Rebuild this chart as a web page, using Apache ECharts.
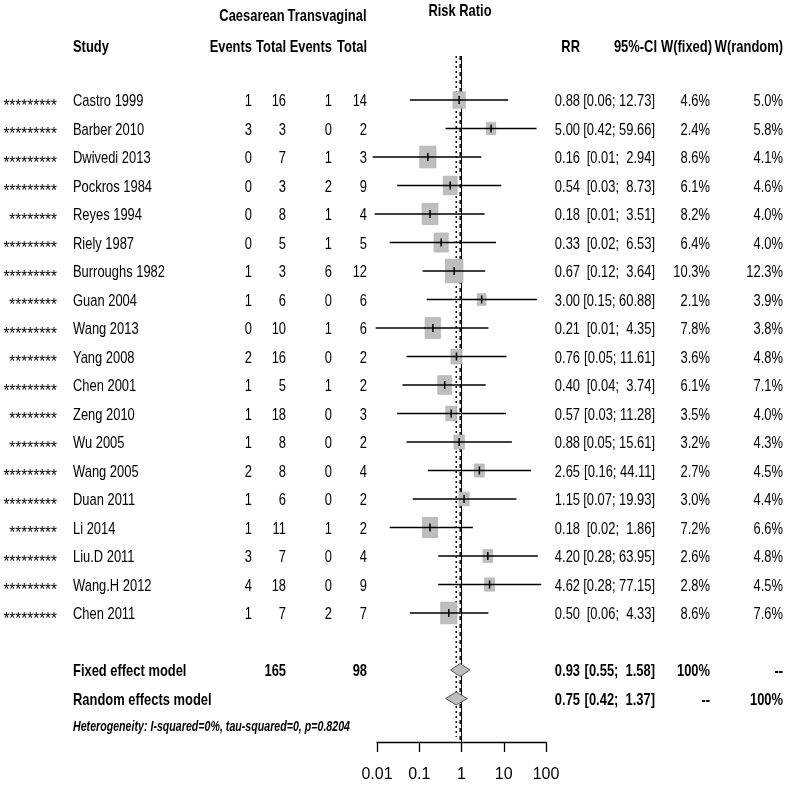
<!DOCTYPE html>
<html><head><meta charset="utf-8">
<script src="https://cdn.jsdelivr.net/npm/echarts@6/dist/echarts.min.js"></script>
<style>html,body{margin:0;padding:0;background:#fff}#c{width:787px;height:785px}</style>
</head><body><div id="c"></div>
<script>
// ---------------- data ----------------
const studies = ["Castro 1999","Barber 2010","Dwivedi 2013","Pockros 1984","Reyes 1994","Riely 1987","Burroughs 1982","Guan 2004","Wang 2013","Yang 2008","Chen 2001","Zeng 2010","Wu 2005","Wang 2005","Duan 2011","Li 2014","Liu.D 2011","Wang.H 2012","Chen 2011"];
const starCounts = [9,9,9,9,8,9,9,8,9,8,9,8,8,9,9,8,9,9,9];
const eventsC = [1,3,0,0,0,0,1,1,0,2,1,1,1,2,1,1,3,4,1];
const totalC  = [16,3,7,3,8,5,3,6,10,16,5,18,8,8,6,11,7,18,7];
const eventsT = [1,0,1,2,1,1,6,0,1,0,1,0,0,0,0,1,0,0,2];
const totalT  = [14,2,3,9,4,5,12,6,6,2,2,3,2,4,2,2,4,9,7];
const rr   = [0.88,5.00,0.16,0.54,0.18,0.33,0.67,3.00,0.21,0.76,0.40,0.57,0.88,2.65,1.15,0.18,4.20,4.62,0.50];
const ciLo = [0.06,0.42,0.0079,0.03,0.0088,0.02,0.12,0.15,0.0093,0.05,0.04,0.03,0.05,0.16,0.07,0.02,0.28,0.28,0.06];
const ciHi = [12.73,59.66,2.94,8.73,3.51,6.53,3.64,60.88,4.35,11.61,3.74,11.28,15.61,44.11,19.93,1.86,63.95,77.15,4.33];
const wFixed  = [4.6,2.4,8.6,6.1,8.2,6.4,10.3,2.1,7.8,3.6,6.1,3.5,3.2,2.7,3.0,7.2,2.6,2.8,8.6];
const wRandom = [5.0,5.8,4.1,4.6,4.0,4.0,12.3,3.9,3.8,4.8,7.1,4.0,4.3,4.5,4.4,6.6,4.8,4.5,7.6];

const modelNames = ["Fixed effect model","Random effects model"];
const modelTotalC = ["165",""];
const modelTotalT = ["98",""];
const modelRR = [0.93,0.75];
const modelLo = [0.55,0.42];
const modelHi = [1.58,1.37];
const modelWFixed = ["100%","--"];
const modelWRandom = ["--","100%"];
const heterogeneity = "Heterogeneity: I-squared=0%, tau-squared=0, p=0.8204";

const refValues = [1, 0.93, 0.75];   // null line, fixed, random
const tickValues = [0.01,0.1,1,10,100];
const tickLabels = ["0.01","0.1","1","10","100"];

// ---------------- layout ----------------
const FONT = "'Liberation Sans', Arial, sans-serif";
const FS = 17, SX = 0.76;
const TXT_DY = 1.5;
const nStudies = studies.length;
const modelRow0 = nStudies + 1;          // fixed row index
const hetRow = modelRow0 + 2;

const fmt2 = v => v.toFixed(2);
const ciText = (l,h) => "[" + fmt2(l) + "; " + fmt2(h).padStart(5," ") + "]";
const pct = v => v.toFixed(1) + "%";

function txt(x, y, text, align, o) {
  o = o || {};
  return {
    type: 'text', x: x, y: y, scaleX: o.sx || SX, z2: 10,
    style: {
      text: text, x: 0, y: 0, align: align, verticalAlign: 'middle',
      font: (o.style || '') + ' ' + (o.bold ? 'bold ' : '') + (o.fs || FS) + 'px ' + FONT,
      fill: '#000'
    }
  };
}

const colX = { star: 57, study: 73, evC: 252, nC: 286, evT: 332, nT: 367, rr: 580, ci: 655, wf: 710, wr: 783 };

const chart = echarts.init(document.getElementById('c'), null, { renderer: 'canvas' });

const option = {
  animation: false,
  backgroundColor: '#fff',
  grid: { left: 377, right: 241, top: 56, bottom: 43 },
  xAxis: {
    type: 'log', logBase: 10, min: 0.01, max: 100,
    axisLine: { show: true, onZero: false, lineStyle: { color: '#000', width: 1.3 } },
    axisTick: { show: true, length: 10, lineStyle: { color: '#000', width: 1.3 } },
    splitLine: { show: false },
    axisLabel: {
      margin: 25, color: '#000', fontSize: 16,
      fontFamily: "'Liberation Sans Narrow', 'Liberation Sans', sans-serif",
      formatter: v => tickLabels[Math.round(Math.log10(v)) + 2]
    }
  },
  yAxis: { type: 'value', inverse: true, min: -1.544, max: 22.526, show: false },
  graphic: [
    txt(252, 16, "Caesarean", 'center', { bold: true }),
    txt(327, 16, "Transvaginal", 'center', { bold: true }),
    txt(460, 11, "Risk Ratio", 'center', { bold: true }),
    txt(73, 47, "Study", 'left', { bold: true }),
    txt(252, 47, "Events", 'right', { bold: true }),
    txt(286, 47, "Total", 'right', { bold: true }),
    txt(332, 47, "Events", 'right', { bold: true }),
    txt(367, 47, "Total", 'right', { bold: true }),
    txt(580, 47, "RR", 'right', { bold: true }),
    txt(657, 47, "95%-CI", 'right', { bold: true }),
    txt(712, 47, "W(fixed)", 'right', { bold: true }),
    txt(783, 47, "W(random)", 'right', { bold: true })
  ],
  series: [
    { // reference lines
      type: 'custom', z: 1, silent: true,
      data: refValues.map((v, i) => [v, i]),
      renderItem: (params, api) => {
        const v = api.value(0);
        const i = params.dataIndex;
        const p0 = api.coord([v, -1.544]);
        const p1 = api.coord([v, 22.526]);
        const dash = i === 0 ? null : (i === 1 ? [4, 4] : [2, 3]);
        return {
          type: 'line',
          shape: { x1: p0[0], y1: p0[1], x2: p1[0], y2: p1[1] - (i === 2 ? 5 : 0) },
          style: { stroke: '#000', lineWidth: i === 0 ? 1 : 1.4, lineDash: dash }
        };
      }
    },
    { // study boxes + CI lines
      type: 'custom', z: 3, silent: true,
      data: rr.map((v, i) => [v, i, ciLo[i], ciHi[i], wFixed[i]]),
      renderItem: (params, api) => {
        const row = api.value(1);
        const c = api.coord([api.value(0), row]);
        const a = api.coord([api.value(2), row]);
        const b = api.coord([api.value(3), row]);
        const w = 5 * Math.sqrt(api.value(4)) + 1.5;
        const h = w * 1.34;
        return {
          type: 'group', children: [
            { type: 'rect', shape: { x: c[0] - w / 2, y: c[1] - h / 2, width: w, height: h },
              style: { fill: '#bebebe', stroke: '#b4b4b4', lineWidth: 0.8 } },
            { type: 'line', shape: { x1: a[0], y1: a[1], x2: b[0], y2: b[1] },
              style: { stroke: '#000', lineWidth: 1.5 } },
            { type: 'line', shape: { x1: c[0], y1: c[1] - 4, x2: c[0], y2: c[1] + 4 },
              style: { stroke: '#000', lineWidth: 1.5 } }
          ]
        };
      }
    },
    { // model diamonds
      type: 'custom', z: 3, silent: true,
      data: modelRR.map((v, i) => [v, modelRow0 + i, modelLo[i], modelHi[i]]),
      renderItem: (params, api) => {
        const row = api.value(1);
        const c = api.coord([api.value(0), row]);
        const a = api.coord([api.value(2), row]);
        const b = api.coord([api.value(3), row]);
        const hh = 6.5;
        return {
          type: 'polygon',
          shape: { points: [[a[0], a[1]], [c[0], c[1] - hh], [b[0], b[1]], [c[0], c[1] + hh]] },
          style: { fill: '#bebebe', stroke: '#555', lineWidth: 1 }
        };
      }
    },
    { // study table text
      type: 'custom', z: 4, silent: true,
      data: studies.map((s, i) => [1, i]),
      renderItem: (params, api) => {
        const i = params.dataIndex;
        const y = api.coord([1, api.value(1)])[1] + TXT_DY;
        return {
          type: 'group', children: [
            txt(colX.star, y + 4.5, '*'.repeat(starCounts[i]), 'right', { sx: 0.9 }),
            txt(colX.study, y, studies[i], 'left'),
            txt(colX.evC, y, String(eventsC[i]), 'right'),
            txt(colX.nC, y, String(totalC[i]), 'right'),
            txt(colX.evT, y, String(eventsT[i]), 'right'),
            txt(colX.nT, y, String(totalT[i]), 'right'),
            txt(colX.rr, y, fmt2(rr[i]), 'right'),
            txt(colX.ci, y, ciText(ciLo[i], ciHi[i]), 'right'),
            txt(colX.wf, y, pct(wFixed[i]), 'right'),
            txt(colX.wr, y, pct(wRandom[i]), 'right')
          ]
        };
      }
    },
    { // model table text
      type: 'custom', z: 4, silent: true,
      data: modelNames.map((s, i) => [1, modelRow0 + i]),
      renderItem: (params, api) => {
        const i = params.dataIndex;
        const y = api.coord([1, api.value(1)])[1] + TXT_DY;
        const B = { bold: true };
        return {
          type: 'group', children: [
            txt(colX.study, y, modelNames[i], 'left', B),
            txt(colX.nC, y, modelTotalC[i], 'right', B),
            txt(colX.nT, y, modelTotalT[i], 'right', B),
            txt(colX.rr, y, fmt2(modelRR[i]), 'right', B),
            txt(colX.ci, y, ciText(modelLo[i], modelHi[i]), 'right', B),
            txt(colX.wf, y, modelWFixed[i], 'right', B),
            txt(colX.wr, y, modelWRandom[i], 'right', B)
          ]
        };
      }
    },
    { // heterogeneity
      type: 'custom', z: 4, silent: true,
      data: [[1, hetRow]],
      renderItem: (params, api) => {
        const y = api.coord([1, api.value(1)])[1];
        return txt(colX.study, y, heterogeneity, 'left', { bold: true, style: 'italic', fs: 14 });
      }
    }
  ]
};
chart.setOption(option);
</script>
</body></html>
